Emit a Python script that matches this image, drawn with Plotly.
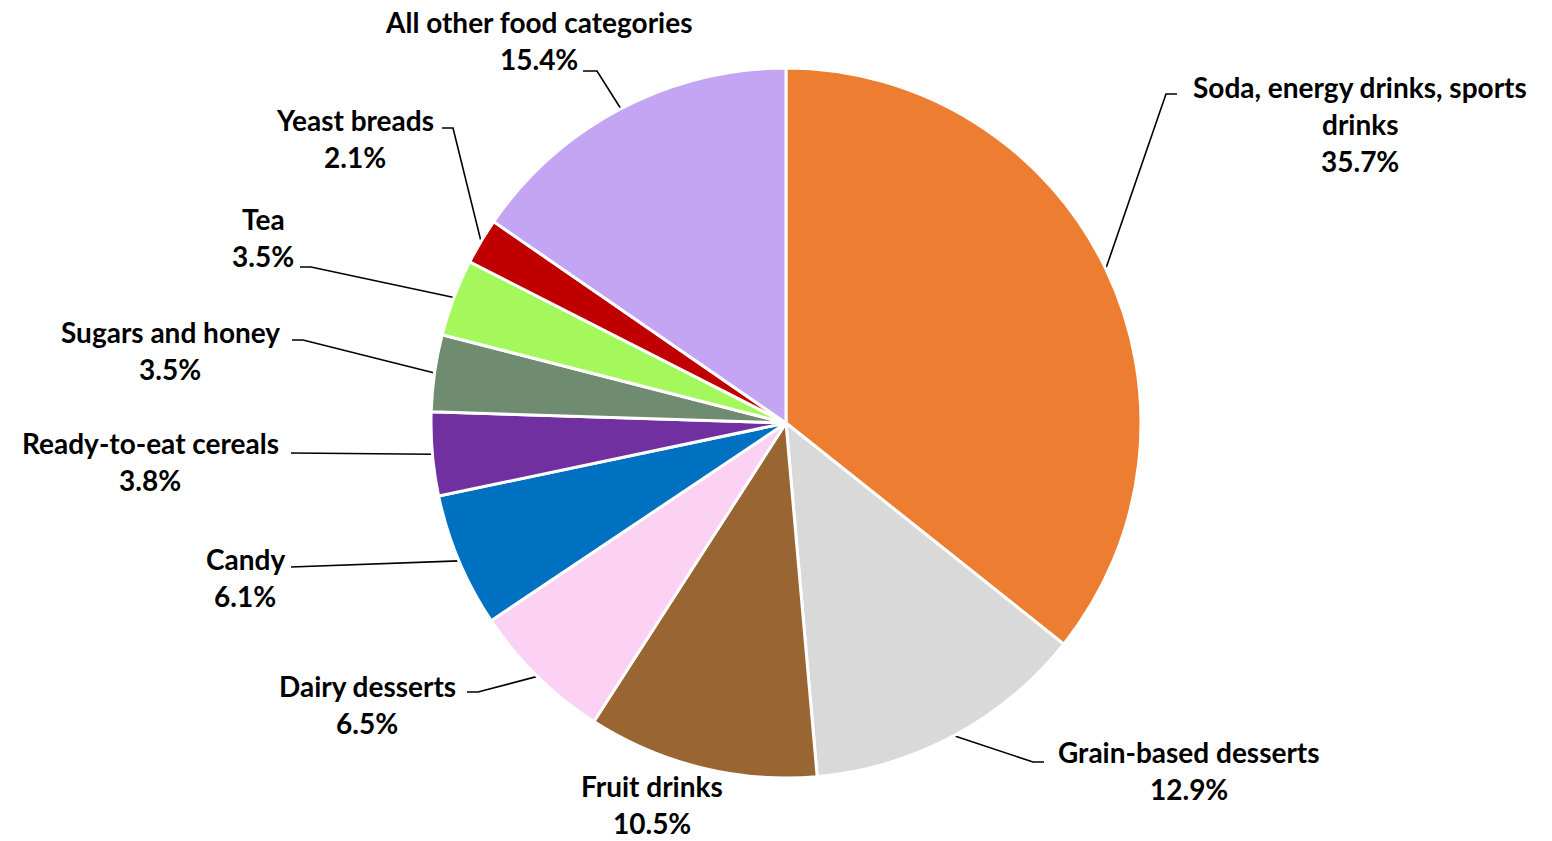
import plotly.graph_objects as go
import math

# ---- data ----
categories = ["Soda, energy drinks, sports drinks", "Grain-based desserts", "Fruit drinks",
              "Dairy desserts", "Candy", "Ready-to-eat cereals", "Sugars and honey",
              "Tea", "Yeast breads", "All other food categories"]
label_lines = [["Soda, energy drinks, sports", "drinks"], ["Grain-based desserts"], ["Fruit drinks"],
               ["Dairy desserts"], ["Candy"], ["Ready-to-eat cereals"], ["Sugars and honey"],
               ["Tea"], ["Yeast breads"], ["All other food categories"]]
values = [35.7, 12.9, 10.5, 6.5, 6.1, 3.8, 3.5, 3.5, 2.1, 15.4]
colors = ["#ED7D31", "#D9D9D9", "#996633", "#FCD2F4", "#0070C0", "#7030A0",
          "#6F8B70", "#A4F85C", "#C00000", "#C3A5F3"]

# ---- layout of labels (pixel positions) ----
W, H = 1552, 841
CX, CY, R = 786, 423, 355
label_cx = [1360, 1189, 652, 367, 245, 150, 170, 263, 355, 539]
label_y0 = [87, 752, 786, 686, 559, 443, 332, 219, 120, 22]
LINE_SP = 37
# leader: elbow point and stub end (None = no leader)
elbows = [(1166, 94), (1033, 762), None, (478, 692), (302, 567), (302, 453),
          (303, 340), (311, 267), (453, 128), (597, 71)]
stub_ends = [(1177, 94), (1044, 762), None, (467, 692), (291, 567), (291, 453),
             (292, 340), (300, 267), (442, 128), (583, 71)]

FONT = "Lato"
FS = 28

fig = go.Figure()
fig.add_trace(go.Pie(
    labels=categories, values=values, sort=False, direction="clockwise", rotation=0,
    marker=dict(colors=colors, line=dict(color="white", width=3)),
    textinfo="none", hoverinfo="label+percent", showlegend=False,
    domain=dict(x=[(CX - R) / W, (CX + R) / W], y=[(H - CY - R) / H, (H - CY + R) / H]),
))

total = sum(values)
cum = 0.0
annotations = []
for i, v in enumerate(values):
    mid = (cum + v / 2) / total * 2 * math.pi
    cum += v
    ex = CX + R * math.sin(mid)
    ey = CY - R * math.cos(mid)
    if elbows[i] is not None:
        fig.add_trace(go.Scatter(
            x=[ex, elbows[i][0], stub_ends[i][0]], y=[ey, elbows[i][1], stub_ends[i][1]],
            mode="lines", line=dict(color="black", width=1.6), hoverinfo="skip", showlegend=False))
    lines = label_lines[i] + [f"{v / total * 100:.1f}%"]
    for k, t in enumerate(lines):
        annotations.append(dict(
            x=label_cx[i], y=label_y0[i] + k * LINE_SP, xref="x", yref="y",
            text=f"<b>{t}</b>", showarrow=False, xanchor="center", yanchor="middle",
            borderpad=0, font=dict(family=FONT, size=FS, color="black")))

fig.update_layout(
    width=W, height=H, margin=dict(l=0, r=0, t=0, b=0),
    paper_bgcolor="white", plot_bgcolor="rgba(0,0,0,0)",
    xaxis=dict(range=[0, W], visible=False, fixedrange=True),
    yaxis=dict(range=[H, 0], visible=False, fixedrange=True),
    annotations=annotations,
)
fig.write_html("out.html")
